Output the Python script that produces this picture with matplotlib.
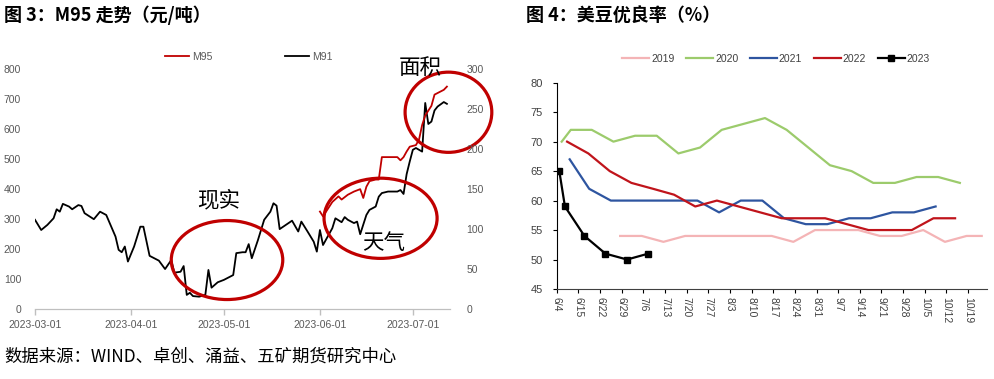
import matplotlib
matplotlib.use('Agg')
import matplotlib.pyplot as plt
import matplotlib.dates as mdates
from matplotlib.patches import Ellipse
import pandas as pd

plt.rcParams['font.family'] = ['Liberation Sans', 'Noto Sans CJK SC', 'DejaVu Sans']
CJK = ['Noto Sans CJK SC', 'DejaVu Sans']

# ---------------- data: 图3 M95 / M91 ----------------
m91_dates = ['2023-03-01', '2023-03-03', '2023-03-05', '2023-03-07', '2023-03-08', '2023-03-09',
             '2023-03-10', '2023-03-12', '2023-03-13', '2023-03-15', '2023-03-16', '2023-03-17',
             '2023-03-20', '2023-03-22', '2023-03-24', '2023-03-27', '2023-03-28', '2023-03-29',
             '2023-03-30', '2023-03-31',
             '2023-04-02', '2023-04-04', '2023-04-05', '2023-04-07', '2023-04-10', '2023-04-12',
             '2023-04-14', '2023-04-15', '2023-04-17', '2023-04-18', '2023-04-19', '2023-04-20',
             '2023-04-21', '2023-04-23', '2023-04-25', '2023-04-26', '2023-04-27', '2023-04-29',
             '2023-05-01', '2023-05-04', '2023-05-05', '2023-05-07', '2023-05-08', '2023-05-09',
             '2023-05-10', '2023-05-12', '2023-05-14', '2023-05-16', '2023-05-17', '2023-05-18',
             '2023-05-19', '2023-05-21', '2023-05-23', '2023-05-25', '2023-05-26', '2023-05-28',
             '2023-05-30', '2023-05-31',
             '2023-06-01', '2023-06-02', '2023-06-05', '2023-06-06', '2023-06-08', '2023-06-09',
             '2023-06-10', '2023-06-12', '2023-06-13', '2023-06-14', '2023-06-16', '2023-06-17',
             '2023-06-19', '2023-06-20', '2023-06-21', '2023-06-23', '2023-06-26', '2023-06-27',
             '2023-06-28', '2023-06-29', '2023-06-30',
             '2023-07-01', '2023-07-02', '2023-07-03', '2023-07-04', '2023-07-05', '2023-07-06',
             '2023-07-07', '2023-07-08', '2023-07-09', '2023-07-11', '2023-07-12']
m91_values = [298, 264, 281, 303, 333, 325, 351, 342, 333, 347, 344, 320, 300, 325, 314, 242, 198, 190, 209, 159,
              209, 275, 275, 178, 162, 134, 164, 122, 125, 144, 48, 55, 44, 42, 48, 131, 72, 90,
              98, 114, 187, 190, 190, 217, 170, 231, 298, 325, 353, 345, 267, 281, 295, 259, 292, 259, 225, 192,
              264, 214, 270, 303, 290, 307, 298, 287, 292, 250, 314, 331, 342, 375, 387, 392, 392, 397, 384, 450, 492,
              531, 537, 531, 525, 687, 617, 625, 662, 675, 690, 684]

m95_dates = ['2023-06-01', '2023-06-02', '2023-06-03', '2023-06-05', '2023-06-07', '2023-06-08',
             '2023-06-10', '2023-06-12', '2023-06-14', '2023-06-15', '2023-06-16', '2023-06-17',
             '2023-06-19', '2023-06-20', '2023-06-21', '2023-06-26', '2023-06-27', '2023-06-28',
             '2023-06-29', '2023-06-30', '2023-07-02', '2023-07-03', '2023-07-04', '2023-07-05',
             '2023-07-07', '2023-07-08', '2023-07-09', '2023-07-11', '2023-07-12']
m95_values = [122, 116, 122, 134, 141, 137, 143, 147, 150, 139, 153, 160, 162, 162, 190, 190, 186, 190,
              197, 203, 205, 212, 230, 242, 254, 268, 270, 274, 278]

left_yticks = [0, 100, 200, 300, 400, 500, 600, 700, 800]
right_yticks = [0, 50, 100, 150, 200, 250, 300]

# ---------------- data: 图4 美豆优良率 ----------------
week_labels = ['6/4', '6/15', '6/22', '6/29', '7/6', '7/13', '7/20', '7/27', '8/3', '8/10',
               '8/17', '8/24', '8/31', '9/7', '9/14', '9/21', '9/28', '10/5', '10/12', '10/19']

x2019 = [2.93, 3.93, 4.93, 5.93, 6.93, 7.93, 8.93, 9.93, 10.93, 11.93, 12.93, 13.93, 14.93, 15.93,
         16.93, 17.93, 18.93, 19.63]
v2019 = [54, 54, 53, 54, 54, 54, 54, 54, 53, 55, 55, 55, 54, 54, 55, 53, 54, 54]

x2020 = [0.23, 0.65, 1.62, 2.62, 3.62, 4.62, 5.62, 6.62, 7.62, 8.62, 9.62, 10.62, 11.62, 12.62,
         13.62, 14.62, 15.62, 16.62, 17.62, 18.62]
v2020 = [70, 72, 72, 70, 71, 71, 68, 69, 72, 73, 74, 72, 69, 66, 65, 63, 63, 64, 64, 63]

x2021 = [0.6, 1.5, 2.5, 3.5, 4.5, 5.5, 6.5, 7.5, 8.5, 9.5, 10.5, 11.5, 12.5, 13.5, 14.5, 15.5, 16.5, 17.5]
v2021 = [67, 62, 60, 60, 60, 60, 60, 58, 60, 60, 57, 56, 56, 57, 57, 58, 58, 59]

x2022 = [0.48, 1.46, 2.45, 3.45, 4.45, 5.42, 6.4, 7.4, 8.4, 9.4, 10.4, 11.4, 12.4, 13.4, 14.4, 15.4,
         16.4, 17.4, 18.4]
v2022 = [70, 68, 65, 63, 62, 61, 59, 60, 59, 58, 57, 57, 57, 56, 55, 55, 55, 57, 57]

x2023 = [0.12, 0.38, 1.28, 2.25, 3.25, 4.23]
v2023 = [65, 59, 54, 51, 50, 51]

W, H = 995, 379


def fx(px):
    return px / W


def fy(py):
    return 1 - py / H


fig = plt.figure(figsize=(W / 100, H / 100), dpi=100)

# ================= left chart =================
ax1 = fig.add_axes([fx(35), fy(309.3), (450 - 35) / W, (309.3 - 69) / H])
ax1r = ax1.twinx()

d91 = pd.to_datetime(m91_dates)
d95 = pd.to_datetime(m95_dates)
ax1.plot(d91, m91_values, color='black', lw=1.3, label='M91', zorder=3)
ax1r.plot(d95, m95_values, color='#C00000', lw=1.3, label='M95', zorder=3)

ax1.set_xlim(pd.Timestamp('2023-03-01'), pd.Timestamp('2023-07-13'))
ax1.set_ylim(0, 800)
ax1r.set_ylim(0, 300)
ax1.set_yticks(left_yticks)
ax1r.set_yticks(right_yticks)
ax1.xaxis.set_major_locator(mdates.MonthLocator())
ax1.xaxis.set_major_formatter(mdates.DateFormatter('%Y-%m-%d'))

for a in (ax1, ax1r):
    for s in ('left', 'right', 'top'):
        a.spines[s].set_visible(False)
    a.spines['bottom'].set_color('#BFBFBF')
    a.patch.set_visible(False)
ax1.tick_params(axis='x', colors='#BFBFBF', labelcolor='#595959', length=4, width=1,
                labelsize=7.5, pad=4)
ax1.tick_params(axis='y', length=0, labelcolor='#595959', labelsize=7.5, pad=10)
ax1r.tick_params(axis='y', length=0, labelcolor='#595959', labelsize=7.5, pad=12)

h1, l1 = ax1r.get_legend_handles_labels()
h2, l2 = ax1.get_legend_handles_labels()
fig.legend(h1 + h2, l1 + l2, loc='center', bbox_to_anchor=(fx(249), fy(57)), ncol=2,
           frameon=False, fontsize=7.5, labelcolor='#595959', handlelength=2.3,
           handletextpad=0.3, columnspacing=7.0)

# annotation ellipses (data coordinates)
red = '#C00000'
ellipses = [('2023-05-02', 164, 36, 263),
            ('2023-06-20 14:00', 303, 36.5, 267),
            ('2023-07-12 12:00', 656, 28, 267)]
for cd, cy, w, h in ellipses:
    e = Ellipse((mdates.date2num(pd.Timestamp(cd)), cy), w, h, fill=False, ec=red, lw=2.3,
                clip_on=False, zorder=5)
    ax1.add_patch(e)

fig.text(fx(218.5), fy(200), '现实', fontsize=15.5, family=CJK, ha='center', va='center')
fig.text(fx(384), fy(243), '天气', fontsize=15.5, family=CJK, ha='center', va='center', zorder=6)
fig.text(fx(420), fy(68), '面积', fontsize=15.5, family=CJK, ha='center', va='center')

# ================= right chart =================
ax2 = fig.add_axes([fx(556.7), fy(289), (986.7 - 556.7) / W, (289 - 82.7) / H])
ax2.plot(x2019, v2019, color='#F4B4B6', lw=1.6, label='2019')
ax2.plot(x2020, v2020, color='#9CCB6C', lw=1.6, label='2020')
ax2.plot(x2021, v2021, color='#2E55A0', lw=1.6, label='2021')
ax2.plot(x2022, v2022, color='#C0141B', lw=1.6, label='2022')
ax2.plot(x2023, v2023, color='black', lw=1.6, marker='s', ms=5, label='2023')

ax2.set_xlim(0, 19.86)
ax2.set_ylim(45, 80)
ax2.set_yticks(range(45, 81, 5))
ax2.set_xticks(range(len(week_labels)))
ax2.set_xticklabels(week_labels, rotation=270, va='top', ha='center')
for s in ('top', 'right'):
    ax2.spines[s].set_visible(False)
ax2.spines['left'].set_color('black')
ax2.spines['bottom'].set_color('#404040')
ax2.tick_params(axis='y', length=3, labelsize=8, labelcolor='#404040', pad=7)
ax2.tick_params(axis='x', length=3, labelsize=7.5, labelcolor='#404040', pad=3)

ax2.legend(loc='center', bbox_to_anchor=(fx(776), fy(59)), bbox_transform=fig.transFigure,
           ncol=5, frameon=False, fontsize=7.5, labelcolor='#404040', handlelength=2.6,
           handletextpad=0.2, columnspacing=1.1)

# ================= titles & footer =================
fig.text(fx(4), fy(15), '图 3：M95 走势（元/吨）', fontsize=13, fontweight='bold', family=CJK,
         ha='left', va='center')
fig.text(fx(526), fy(15), '图 4：美豆优良率（%）', fontsize=13, fontweight='bold', family=CJK,
         ha='left', va='center')
fig.text(fx(4), fy(357), '数据来源：WIND、卓创、涌益、五矿期货研究中心', fontsize=12.5, family=CJK,
         ha='left', va='center')

fig.savefig('out.png', dpi=100)
